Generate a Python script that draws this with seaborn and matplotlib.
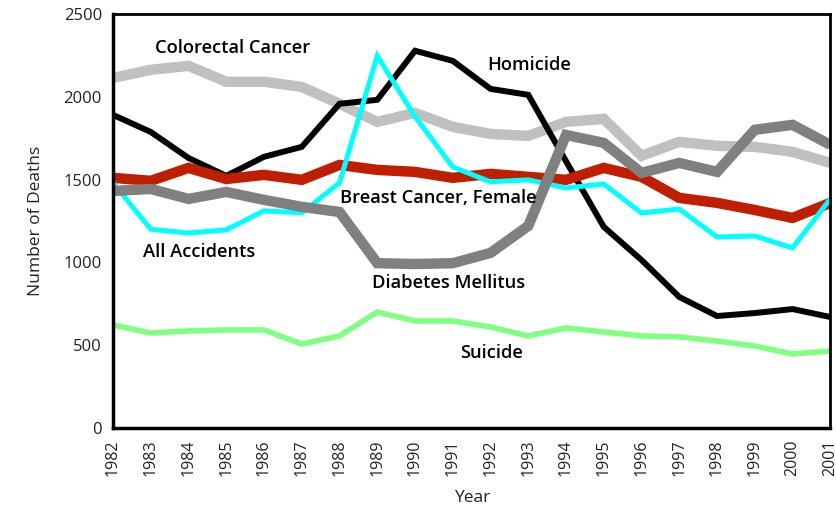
import matplotlib
matplotlib.use("Agg")
import matplotlib.pyplot as plt
import seaborn as sns
import pandas as pd

years = list(range(1982, 2002))

colorectal = [2113, 2162, 2186, 2090, 2090, 2059, 1957, 1848, 1902, 1818,
              1775, 1763, 1848, 1866, 1643, 1727, 1703, 1697, 1667, 1600]
homicide = [1890, 1787, 1630, 1522, 1637, 1697, 1957, 1981, 2277, 2216,
            2047, 2011, 1610, 1214, 1014, 791, 676, 694, 718, 670]
breast = [1510, 1492, 1570, 1503, 1528, 1498, 1588, 1558, 1546, 1510,
          1534, 1516, 1498, 1570, 1516, 1389, 1359, 1316, 1268, 1359]
accidents = [1480, 1200, 1177, 1196, 1311, 1299, 1480, 2246, 1880, 1576,
             1486, 1498, 1449, 1473, 1298, 1322, 1153, 1159, 1087, 1383]
diabetes = [1431, 1443, 1383, 1425, 1377, 1335, 1304, 995, 990, 995,
            1057, 1220, 1769, 1721, 1540, 1600, 1546, 1800, 1830, 1709]
suicide = [622, 574, 586, 592, 592, 507, 556, 700, 646, 646,
           610, 556, 604, 580, 556, 550, 525, 495, 447, 465]

series = {
    "Suicide": suicide,
    "Colorectal Cancer": colorectal,
    "Homicide": homicide,
    "Breast Cancer, Female": breast,
    "All Accidents": accidents,
    "Diabetes Mellitus": diabetes,
}

colors = {
    "Colorectal Cancer": "#c0c0c0",
    "Homicide": "#000000",
    "Breast Cancer, Female": "#c01e00",
    "All Accidents": "#00ffff",
    "Diabetes Mellitus": "#808080",
    "Suicide": "#80ff80",
}
widths = {
    "Colorectal Cancer": 7.5,
    "Homicide": 4.3,
    "Breast Cancer, Female": 7.5,
    "All Accidents": 3.6,
    "Diabetes Mellitus": 7.5,
    "Suicide": 4.0,
}

# label placement (year, value)
labels = {
    "Colorectal Cancer": (1983.1, 2295),
    "Homicide": (1991.9, 2192),
    "Breast Cancer, Female": (1988.0, 1389),
    "All Accidents": (1982.8, 1063),
    "Diabetes Mellitus": (1988.85, 876),
    "Suicide": (1991.2, 453),
}

sns.set_style("white")
plt.rcParams["font.family"] = ["Open Sans", "DejaVu Sans"]

fig = plt.figure(figsize=(8.37, 5.12), dpi=100)
ax = fig.add_axes([0.135, 0.164, 0.857, 0.809])

for name, vals in series.items():
    df = pd.DataFrame({"Year": years, "Deaths": vals})
    sns.lineplot(data=df, x="Year", y="Deaths", ax=ax, color=colors[name],
                 linewidth=widths[name], solid_joinstyle="miter",
                 solid_capstyle="butt")

for name, (x, y) in labels.items():
    ax.text(x, y, name, fontsize=13.2, fontweight="semibold", color="black",
            ha="left", va="center")

ax.set_xlim(1982, 2001)
ax.set_ylim(0, 2500)
ax.set_xticks(years)
ax.set_xticklabels([str(y) for y in years], rotation=90, fontsize=11.5,
                   color="#222222")
ax.set_yticks([0, 500, 1000, 1500, 2000, 2500])
ax.set_yticklabels(["0", "500", "1000", "1500", "2000", "2500"], fontsize=12,
                   color="#222222")
ax.tick_params(length=0, pad=8)
ax.set_xlabel("Year", fontsize=12.5, color="#222222", labelpad=10)
ax.set_ylabel("Number of Deaths", fontsize=12.5, color="#222222", labelpad=14)
for sp in ax.spines.values():
    sp.set_visible(True)
    sp.set_color("black")
    sp.set_linewidth(2)
ax.spines["left"].set_linewidth(2.5)
ax.spines["bottom"].set_linewidth(2.5)

fig.savefig("out.png", dpi=100)
